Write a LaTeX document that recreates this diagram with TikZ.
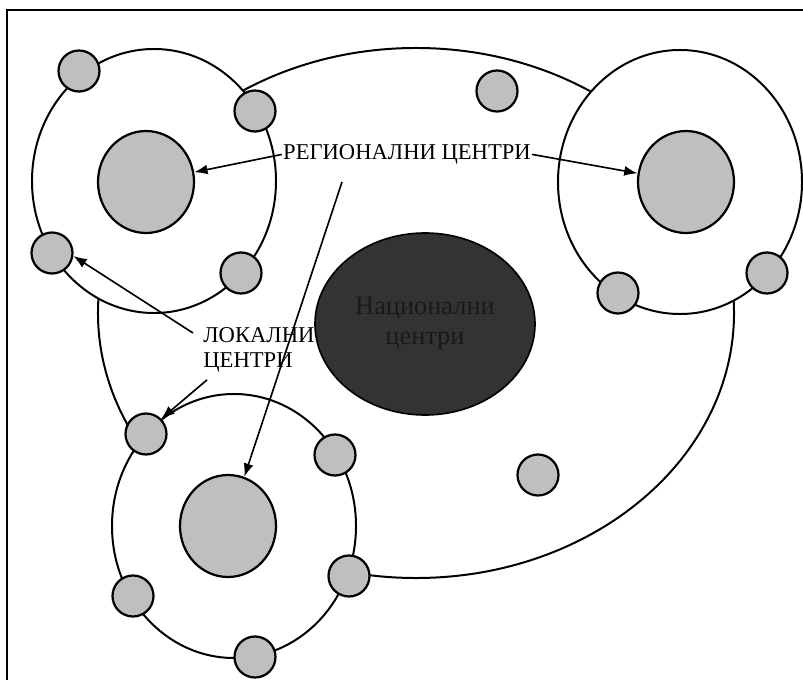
\documentclass[tikz,border=0pt]{standalone}
\usepackage{fontspec}
\setmainfont{Liberation Serif}
\definecolor{hubgray}{rgb}{0.75,0.75,0.75}
\definecolor{natdark}{rgb}{0.2,0.2,0.2}
\usetikzlibrary{shapes.geometric,arrows.meta}

\tikzset{
  ring/.style={draw, ellipse, fill=white, line width=1.7pt, minimum width=7.32cm, minimum height=7.92cm, inner sep=0pt},
  hub/.style={draw, ellipse, fill=hubgray, line width=1.9pt, minimum width=2.88cm, minimum height=3.06cm, inner sep=0pt},
  loc/.style={draw, circle, fill=hubgray, line width=1.9pt, minimum size=1.23cm, inner sep=0pt},
  natl/.style={draw, ellipse, fill=natdark, line width=1.4pt, minimum width=6.6cm, minimum height=5.46cm, align=center, text=black!90, font=\fontsize{22.5}{25.5}\selectfont},
  lbl/.style={font=\fontsize{19.3}{21.5}\selectfont, inner sep=1pt},
  pointer/.style={line width=1.4pt, -{Latex[length=0.4cm,width=0.3cm]}}
}

\begin{document}
\begin{tikzpicture}[x=0.03cm,y=-0.03cm]
            \useasboundingbox (0,0) rectangle (803,680);
            % frame
            \draw[line width=2.4pt] (803,10) -- (7,10) -- (7,680);

            % national region
            \node[draw, ellipse, line width=1.7pt, minimum width=19.08cm, minimum height=15.9cm] (nr) at (416,313) {};
            \node[natl] (nat) at (425,324) {Национални\\центри};

            % regional rings
            \node[ring] (r1) at (154,181) {};
            \node[ring] (r2) at (680,182) {};
            \node[ring] (r3) at (234,526) {};

            % regional centres
            \node[hub] (h1) at (146,182) {};
            \node[hub] (h2) at (686,182) {};
            \node[hub] (h3) at (228,526) {};

            % local centres
            \foreach \n/\x/\y in {1/79/71, 2/255/111, 3/52/253, 4/241/273, 5/497/91, 6/618/293, 7/767/273,
                                  8/146/434, 9/335/455, 10/349/576, 11/133/596, 12/255/657, 13/538/475}
                \node[loc] (l\n) at (\x,\y) {};

            % labels
            \node[lbl, anchor=base] (reg) at (407,159.5) {РЕГИОНАЛНИ ЦЕНТРИ};
            \node[lbl, anchor=west, align=left] (lok) at (202,350) {ЛОКАЛНИ\\ЦЕНТРИ};
            \coordinate (rs) at (342,182);

            % pointers
            \draw[pointer] (reg.west) -- (h1);
            \draw[pointer] (reg.east) -- (h2);
            \draw[pointer] (rs) -- (h3);
            \draw[pointer] ([shift={(-9,-17)}]lok.west) -- (l3.-8);
            \draw[pointer] ([shift={(5,6)}]lok.south west) -- (l8.45);
\end{tikzpicture}
\end{document}
